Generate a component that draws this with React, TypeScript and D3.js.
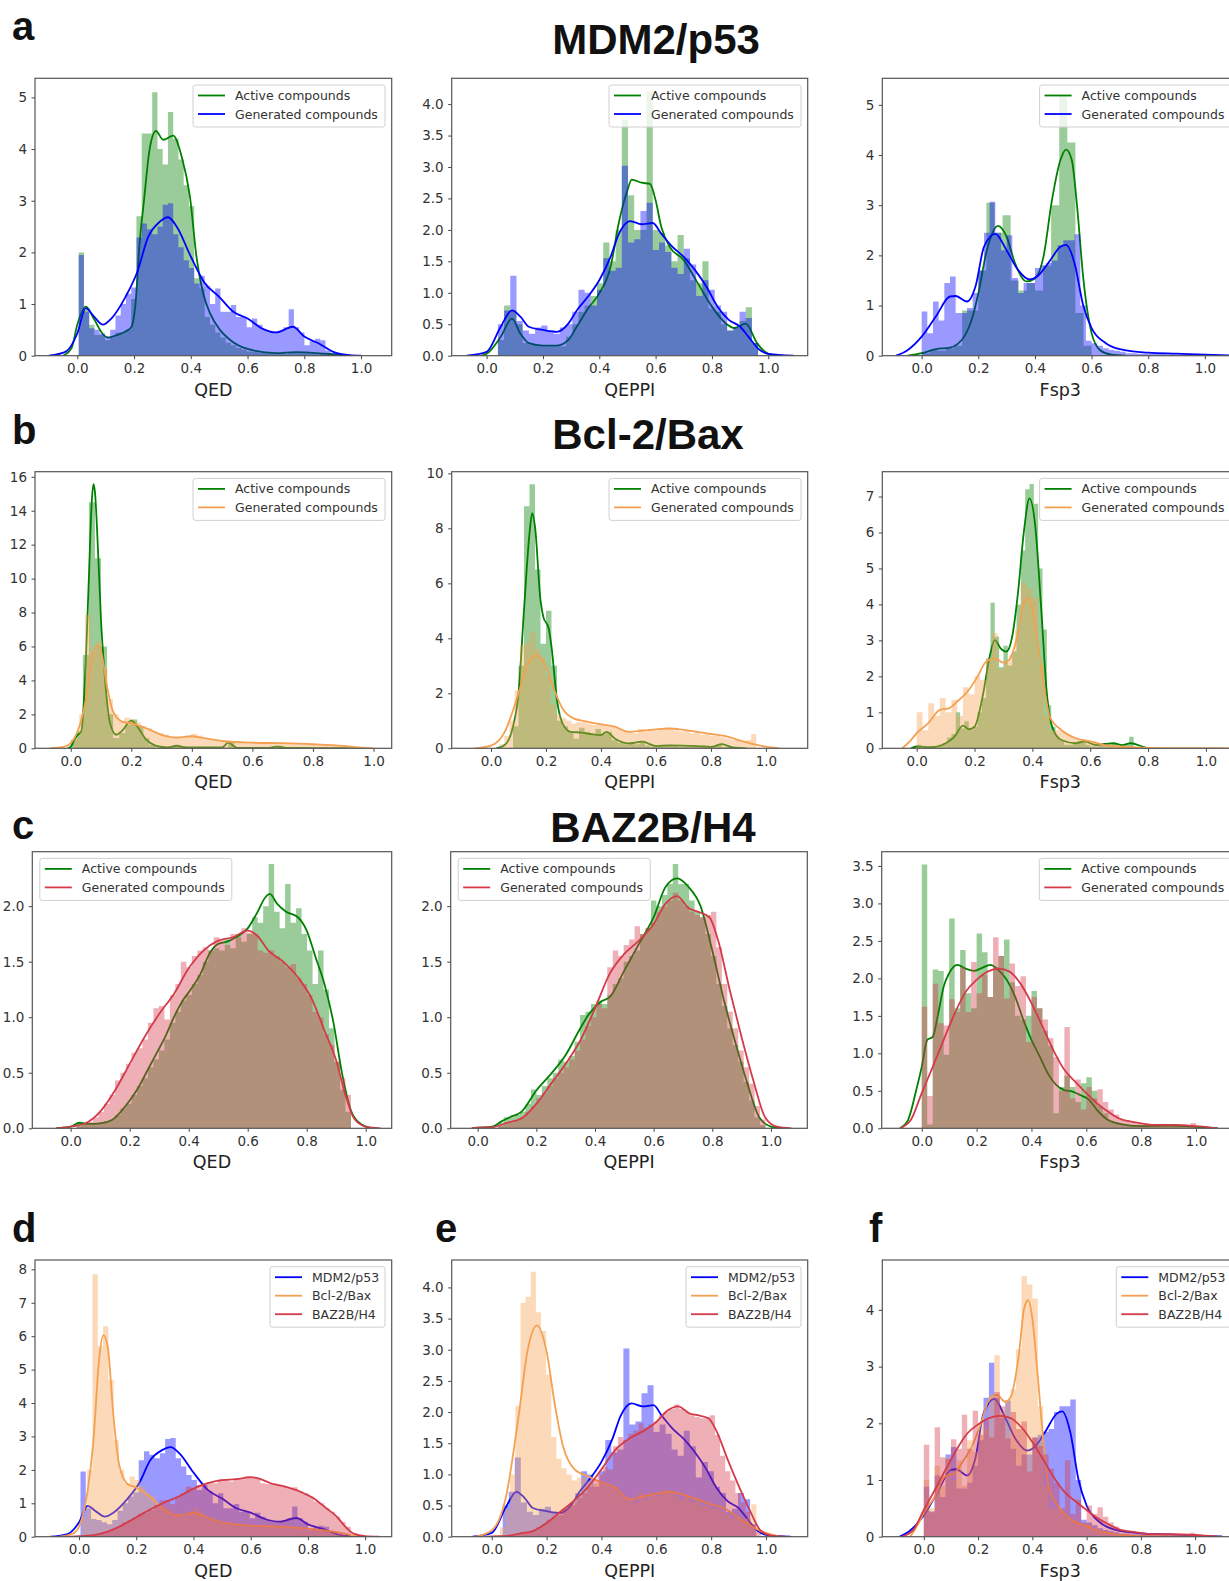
import React, { useEffect, useRef } from 'react';
import * as d3 from 'd3';

type Pt = [number, number];

// ---------- MDM2/p53 ----------
const qedMdmActiveHist = [2.0, 0.9, 0.6, 0.4, 0.4, 0.3, 0.35, 0.45, 0.45, 0.5, 1.1, 2.7, 4.3, 4.3, 5.1, 4.0, 3.7, 4.72, 4.2, 3.8, 3.3, 2.9, 1.5, 1.3, 0.75, 0.6, 0.45, 0.35, 0.25, 0.2, 0.15, 0.12, 0.08, 0.07, 0.06, 0.05, 0.05, 0.04, 0.05, 0.04, 0.05, 0.06, 0.07, 0.05, 0.04, 0.03, 0.04, 0.05, 0.04, 0.02];
const qedMdmGenHist = [1.95, 0.85, 0.53, 0.5, 0.43, 0.37, 0.5, 0.78, 1.0, 1.2, 1.32, 2.29, 2.56, 2.45, 2.35, 2.5, 2.92, 2.95, 2.35, 2.1, 1.85, 1.7, 1.4, 1.55, 1.35, 1.0, 1.3, 0.85, 0.85, 0.98, 0.75, 0.75, 0.55, 0.72, 0.6, 0.5, 0.45, 0.45, 0.48, 0.55, 0.9, 0.55, 0.45, 0.2, 0.28, 0.33, 0.3, 0.1, 0.05, 0.03];
const qedMdmActiveKde: Pt[] = [[-0.05, 0], [-0.02, 0.15], [0.0, 0.6], [0.03, 0.95], [0.06, 0.7], [0.09, 0.42], [0.11, 0.35], [0.14, 0.4], [0.17, 0.47], [0.19, 0.55], [0.205, 1.0], [0.22, 2.2], [0.235, 3.0], [0.255, 4.0], [0.277, 4.35], [0.303, 4.18], [0.338, 4.26], [0.368, 3.85], [0.397, 3.08], [0.42, 1.92], [0.444, 1.2], [0.468, 0.82], [0.503, 0.5], [0.54, 0.3], [0.6, 0.13], [0.7, 0.05], [0.77, 0.07], [0.87, 0.04], [0.95, 0]];
const qedMdmGenKde: Pt[] = [[-0.1, 0], [-0.04, 0.08], [0.0, 0.43], [0.03, 0.92], [0.06, 0.75], [0.09, 0.6], [0.12, 0.72], [0.17, 1.14], [0.21, 1.6], [0.25, 2.3], [0.29, 2.59], [0.32, 2.68], [0.35, 2.5], [0.4, 1.92], [0.45, 1.4], [0.5, 1.14], [0.55, 0.85], [0.6, 0.72], [0.65, 0.53], [0.7, 0.45], [0.76, 0.56], [0.8, 0.37], [0.85, 0.24], [0.9, 0.08], [0.96, 0.01], [1.0, 0]];

const qeppiMdmActiveHist = [0.25, 0.8, 0.72, 0.5, 0.2, 0.18, 0.15, 0.15, 0.15, 0.15, 0.15, 0.3, 0.5, 0.7, 0.8, 0.95, 1.15, 1.8, 1.5, 2.0, 3.75, 2.55, 2.0, 2.0, 4.2, 2.0, 1.95, 1.75, 1.5, 1.92, 1.55, 1.2, 1.15, 1.5, 0.75, 0.7, 0.5, 0.4, 0.45, 0.55, 0.77, 0.2];
const qeppiMdmGenHist = [0.5, 0.72, 1.27, 0.55, 0.4, 0.35, 0.45, 0.48, 0.4, 0.35, 0.45, 0.5, 0.7, 1.05, 1.0, 0.8, 1.05, 1.55, 1.35, 1.4, 3.02, 1.8, 1.85, 2.3, 2.43, 1.68, 1.8, 1.65, 1.4, 1.3, 1.7, 1.45, 0.95, 1.2, 1.05, 0.8, 0.7, 0.4, 0.45, 0.7, 0.6, 0.2];
const qeppiMdmActiveKde: Pt[] = [[-0.02, 0], [0.0, 0.03], [0.05, 0.3], [0.09, 0.59], [0.12, 0.35], [0.15, 0.2], [0.2, 0.16], [0.25, 0.16], [0.29, 0.25], [0.32, 0.46], [0.36, 0.75], [0.4, 0.99], [0.44, 1.41], [0.47, 2.13], [0.5, 2.63], [0.515, 2.8], [0.55, 2.75], [0.58, 2.73], [0.6, 2.47], [0.62, 2.05], [0.65, 1.73], [0.7, 1.52], [0.75, 1.15], [0.8, 0.78], [0.85, 0.51], [0.88, 0.44], [0.92, 0.51], [0.96, 0.2], [1.0, 0.03], [1.03, 0]];
const qeppiMdmGenKde: Pt[] = [[-0.07, 0], [0.0, 0.06], [0.05, 0.46], [0.09, 0.72], [0.12, 0.62], [0.15, 0.46], [0.2, 0.41], [0.25, 0.38], [0.29, 0.51], [0.32, 0.72], [0.36, 0.94], [0.4, 1.2], [0.44, 1.57], [0.47, 1.94], [0.51, 2.14], [0.55, 2.09], [0.59, 2.11], [0.62, 1.94], [0.66, 1.73], [0.7, 1.57], [0.74, 1.36], [0.78, 1.1], [0.82, 0.78], [0.86, 0.57], [0.9, 0.46], [0.93, 0.3], [0.97, 0.09], [1.0, 0.03], [1.09, 0]];

const fsp3MdmActiveHist = [0.05, 0.12, 0.1, 0.15, 0.2, 0.9, 0.9, 1.7, 3.05, 2.45, 2.8, 1.5, 1.3, 1.45, 1.3, 1.8, 3.0, 5.17, 4.25, 0.85, 0.2];
const fsp3MdmGenHist = [0.88, 0.45, 1.08, 0.7, 1.45, 1.58, 0.85, 0.85, 0.95, 1.25, 1.7, 2.45, 3.07, 2.45, 2.1, 2.4, 1.55, 1.25, 1.45, 1.45, 1.75, 1.8, 1.85, 1.9, 2.2, 2.3, 2.3, 2.42, 1.0, 0.3, 0.25, 0.2, 0.15, 0.12, 0.1, 0.08, 0.05, 0.05, 0.04, 0.04, 0.04, 0.05, 0.04, 0.03, 0.03, 0.02, 0.02, 0.02, 0.01, 0.01];
const fsp3MdmActiveKde: Pt[] = [[-0.05, 0], [0.0, 0.05], [0.05, 0.13], [0.1, 0.16], [0.15, 0.38], [0.18, 0.78], [0.2, 1.24], [0.23, 2.1], [0.27, 2.59], [0.3, 2.37], [0.33, 1.84], [0.37, 1.48], [0.4, 1.54], [0.43, 1.97], [0.46, 3.1], [0.49, 3.9], [0.51, 4.11], [0.53, 3.9], [0.55, 2.9], [0.57, 1.58], [0.6, 0.45], [0.63, 0.11], [0.67, 0.02], [0.72, 0]];
const fsp3MdmGenKde: Pt[] = [[-0.09, 0], [-0.05, 0.11], [0.0, 0.38], [0.05, 0.78], [0.1, 1.18], [0.12, 1.19], [0.16, 1.08], [0.19, 1.38], [0.22, 2.17], [0.26, 2.43], [0.3, 2.1], [0.34, 1.71], [0.38, 1.52], [0.41, 1.59], [0.45, 1.87], [0.49, 2.17], [0.51, 2.21], [0.54, 1.84], [0.57, 1.01], [0.6, 0.55], [0.65, 0.25], [0.7, 0.13], [0.8, 0.06], [0.9, 0.04], [1.0, 0.02], [1.1, 0.005]];

// ---------- Bcl-2/Bax ----------
const qedBclActiveHist = [0.5, 1.0, 5.5, 14.5, 11.2, 6.0, 2.0, 0.6, 0.9, 1.4, 1.7, 1.3, 0.6, 0.2, 0.05, 0.05, 0.05, 0.2, 0.1, 0.05, 0.05, 0.05, 0.0, 0.05, 0.0, 0.05, 0.4, 0.05, 0.0, 0.0, 0.05, 0.0, 0.0, 0.0, 0.15];
const qedBclGenHist = [0.6, 2.0, 7.85, 5.7, 6.3, 4.7, 2.9, 2.0, 1.6, 1.8, 1.7, 1.5, 1.3, 1.2, 1.0, 0.9, 0.8, 0.65, 0.7, 0.6, 0.75, 0.85, 0.75, 0.55, 0.5, 0.45, 0.4, 0.45, 0.35, 0.4, 0.35, 0.3, 0.35, 0.3, 0.3, 0.28, 0.3, 0.3, 0.25, 0.25, 0.3, 0.25, 0.2, 0.25, 0.2, 0.2, 0.15, 0.15, 0.1, 0.08];
const qedBclActiveKde: Pt[] = [[-0.01, 0], [0.0, 0.1], [0.02, 0.73], [0.035, 1.0], [0.05, 5.2], [0.06, 10.1], [0.07, 14.7], [0.075, 15.57], [0.08, 15.1], [0.09, 11.7], [0.1, 7.56], [0.11, 4.8], [0.13, 1.47], [0.15, 0.8], [0.17, 1.04], [0.2, 1.63], [0.22, 1.28], [0.25, 0.49], [0.28, 0.16], [0.32, 0.05], [0.35, 0.15], [0.38, 0.06], [0.45, 0.05], [0.5, 0.05], [0.52, 0.33], [0.55, 0.03], [0.65, 0.02], [0.68, 0.1], [0.72, 0.02], [0.9, 0.01], [0.95, 0]];
const qedBclGenKde: Pt[] = [[-0.07, 0], [-0.02, 0.1], [0.0, 0.3], [0.03, 1.37], [0.05, 2.85], [0.07, 5.3], [0.085, 6.03], [0.1, 5.7], [0.12, 3.63], [0.14, 2.16], [0.17, 1.57], [0.2, 1.47], [0.25, 1.18], [0.3, 0.79], [0.35, 0.63], [0.4, 0.71], [0.43, 0.63], [0.5, 0.43], [0.6, 0.33], [0.7, 0.3], [0.8, 0.24], [0.9, 0.14], [0.95, 0.05], [1.0, 0]];

const qeppiBclActiveHist = [0.8, 3.0, 8.8, 9.6, 6.5, 3.8, 5.0, 3.0, 1.0, 0.8, 0.6, 0.35, 0.75, 0.6, 0.5, 0.7, 0.55, 0.6, 0.3, 0.2, 0.15, 0.2, 0.15, 0.25, 0.1, 0.05, 0.1, 0.1, 0.1, 0.1, 0.05, 0.05, 0.05, 0.05, 0.1, 0.05, 0.05, 0.15, 0.05, 0.05];
const qeppiBclGenHist = [0.15, 0.45, 1.0, 2.1, 3.75, 3.85, 4.25, 3.6, 3.3, 2.6, 1.6, 1.25, 1.1, 1.0, 0.9, 0.95, 0.95, 0.9, 0.85, 0.9, 0.85, 0.8, 0.8, 0.7, 0.65, 0.6, 0.55, 0.7, 0.6, 0.7, 0.65, 0.7, 0.75, 0.7, 0.65, 0.6, 0.65, 0.55, 0.6, 0.5, 0.5, 0.45, 0.45, 0.4, 0.35, 0.3, 0.3, 0.25, 0.3, 0.52];
const qeppiBclActiveKde: Pt[] = [[0.02, 0], [0.05, 0.12], [0.08, 0.79], [0.1, 2.0], [0.12, 5.03], [0.14, 7.82], [0.15, 8.55], [0.16, 8.06], [0.18, 5.39], [0.19, 4.79], [0.21, 4.36], [0.22, 3.7], [0.24, 1.76], [0.26, 0.91], [0.29, 0.6], [0.33, 0.57], [0.36, 0.52], [0.4, 0.48], [0.42, 0.6], [0.45, 0.36], [0.5, 0.18], [0.55, 0.24], [0.6, 0.08], [0.65, 0.11], [0.75, 0.08], [0.8, 0.05], [0.84, 0.15], [0.88, 0.03], [0.93, 0]];
const qeppiBclGenKde: Pt[] = [[-0.06, 0], [0.0, 0.1], [0.05, 0.6], [0.1, 2.0], [0.13, 2.97], [0.165, 3.39], [0.2, 2.97], [0.23, 2.12], [0.26, 1.45], [0.3, 1.09], [0.35, 0.97], [0.4, 0.87], [0.45, 0.79], [0.5, 0.6], [0.55, 0.64], [0.6, 0.69], [0.65, 0.72], [0.7, 0.67], [0.75, 0.6], [0.8, 0.52], [0.85, 0.45], [0.9, 0.3], [0.95, 0.16], [1.0, 0.06], [1.05, 0]];

const fsp3BclActiveHist = [0.1, 0, 0, 0.05, 0.05, 0.1, 0.15, 0.3, 0.4, 1.0, 0.55, 0.75, 0.5, 0.6, 1.0, 1.4, 2.5, 4.05, 3.1, 2.25, 2.85, 2.3, 2.7, 4.0, 5.5, 7.2, 7.35, 6.8, 5.0, 3.3, 1.2, 0.6, 0.3, 0.2, 0.1, 0.1, 0.15, 0.2, 0.2, 0.1, 0.05, 0.05, 0.1, 0.15, 0.1, 0.15, 0.05, 0.05, 0.1, 0.32];
const fsp3BclGenHist = [1.0, 0.5, 1.25, 0.9, 1.4, 1.0, 1.35, 0.9, 1.7, 1.5, 2.0, 1.9, 2.5, 3.2, 2.2, 2.4, 2.6, 3.3, 4.6, 4.45, 4.2, 2.3, 0.9, 0.5, 0.5, 0.45, 0.35, 0.3, 0.25, 0.2, 0.2, 0.15, 0.1, 0.1, 0.08, 0.05, 0.05, 0.05, 0.03, 0.03, 0.02];
const fsp3BclActiveKde: Pt[] = [[-0.02, 0], [0.0, 0.05], [0.05, 0.03], [0.1, 0.14], [0.13, 0.32], [0.16, 0.63], [0.18, 0.53], [0.2, 0.6], [0.23, 1.53], [0.25, 2.46], [0.27, 3.01], [0.29, 2.78], [0.31, 2.69], [0.33, 3.1], [0.35, 4.31], [0.37, 5.98], [0.39, 6.95], [0.41, 6.17], [0.43, 3.94], [0.45, 1.53], [0.47, 0.56], [0.5, 0.23], [0.55, 0.14], [0.58, 0.19], [0.62, 0.09], [0.65, 0.12], [0.68, 0.14], [0.71, 0.09], [0.74, 0.14], [0.78, 0.05], [0.8, 0]];
const fsp3BclGenKde: Pt[] = [[-0.05, 0], [-0.02, 0.23], [0.0, 0.42], [0.04, 0.7], [0.08, 1.07], [0.11, 1.11], [0.14, 1.3], [0.18, 1.62], [0.21, 1.99], [0.24, 2.41], [0.27, 2.5], [0.3, 2.38], [0.32, 2.46], [0.35, 3.2], [0.37, 4.03], [0.385, 4.17], [0.4, 3.85], [0.42, 2.83], [0.44, 1.72], [0.46, 0.88], [0.5, 0.51], [0.55, 0.28], [0.6, 0.19], [0.65, 0.09], [0.7, 0.05], [0.8, 0.01], [1.1, 0]];

// ---------- BAZ2B/H4 ----------
const qedBazActiveHist = [0.05, 0.05, 0.03, 0.04, 0.05, 0.06, 0.08, 0.12, 0.18, 0.22, 0.3, 0.38, 0.45, 0.55, 0.62, 0.7, 0.8, 0.95, 1.05, 1.15, 1.2, 1.3, 1.38, 1.5, 1.6, 1.62, 1.6, 1.7, 1.62, 1.75, 1.68, 1.75, 1.9, 1.85, 2.0, 2.38, 1.95, 1.8, 2.2, 1.85, 1.98, 1.75, 1.6, 1.3, 1.6, 1.25, 0.9, 0.6, 0.35, 0.15];
const qedBazGenHist = [0.02, 0.04, 0.06, 0.1, 0.15, 0.22, 0.3, 0.43, 0.5, 0.58, 0.68, 0.72, 0.8, 0.95, 1.08, 1.1, 0.98, 1.2, 1.3, 1.5, 1.45, 1.55, 1.6, 1.63, 1.6, 1.72, 1.7, 1.65, 1.75, 1.72, 1.8, 1.76, 1.75, 1.6, 1.58, 1.6, 1.55, 1.5, 1.45, 1.48, 1.35, 1.3, 1.2, 1.05, 1.0, 0.85, 0.75, 0.6, 0.45, 0.3];
const qedBazActiveKde: Pt[] = [[-0.05, 0], [0.0, 0.015], [0.03, 0.05], [0.06, 0.04], [0.1, 0.045], [0.14, 0.075], [0.17, 0.15], [0.2, 0.25], [0.23, 0.37], [0.26, 0.52], [0.29, 0.67], [0.32, 0.82], [0.35, 1.0], [0.38, 1.15], [0.41, 1.26], [0.44, 1.39], [0.47, 1.57], [0.5, 1.66], [0.53, 1.68], [0.56, 1.72], [0.6, 1.8], [0.63, 1.93], [0.66, 2.08], [0.675, 2.11], [0.7, 2.02], [0.73, 1.95], [0.77, 1.9], [0.8, 1.78], [0.83, 1.54], [0.86, 1.3], [0.89, 0.96], [0.92, 0.49], [0.95, 0.16], [0.98, 0.045], [1.02, 0]];
const qedBazGenKde: Pt[] = [[-0.05, 0], [0.0, 0.015], [0.05, 0.045], [0.1, 0.15], [0.15, 0.34], [0.2, 0.58], [0.25, 0.82], [0.3, 1.03], [0.35, 1.21], [0.4, 1.44], [0.45, 1.6], [0.5, 1.69], [0.55, 1.72], [0.6, 1.78], [0.63, 1.74], [0.67, 1.6], [0.72, 1.5], [0.77, 1.36], [0.82, 1.15], [0.86, 0.88], [0.9, 0.61], [0.93, 0.31], [0.96, 0.09], [1.0, 0.015], [1.05, 0]];

const qeppiBazActiveHist = [0.05, 0.1, 0.1, 0.12, 0.15, 0.22, 0.35, 0.3, 0.38, 0.45, 0.5, 0.62, 0.6, 0.65, 0.78, 1.02, 1.05, 1.12, 1.15, 1.12, 1.2, 1.3, 1.35, 1.5, 1.55, 1.6, 1.75, 1.8, 2.05, 2.0, 2.1, 2.2, 2.38, 2.2, 2.2, 2.05, 1.95, 1.9, 1.75, 1.55, 1.3, 1.1, 0.9, 0.75, 0.6, 0.42, 0.25, 0.1, 0.03];
const qeppiBazGenHist = [0.02, 0.05, 0.05, 0.07, 0.1, 0.15, 0.2, 0.27, 0.32, 0.38, 0.45, 0.5, 0.55, 0.62, 0.7, 0.8, 0.92, 1.0, 1.12, 1.08, 1.45, 1.6, 1.55, 1.65, 1.7, 1.82, 1.75, 1.8, 1.85, 1.95, 2.0, 2.05, 2.12, 2.05, 2.0, 1.95, 1.92, 1.9, 1.92, 1.95, 1.63, 1.3, 1.05, 0.9, 0.7, 0.55, 0.4, 0.2, 0.08];
const qeppiBazActiveKde: Pt[] = [[-0.02, 0], [0.0, 0.005], [0.05, 0.015], [0.08, 0.06], [0.11, 0.1], [0.15, 0.15], [0.2, 0.34], [0.25, 0.49], [0.3, 0.66], [0.35, 0.9], [0.38, 1.03], [0.42, 1.14], [0.45, 1.18], [0.5, 1.42], [0.55, 1.66], [0.6, 1.9], [0.64, 2.17], [0.68, 2.25], [0.72, 2.17], [0.76, 2.0], [0.8, 1.6], [0.84, 1.15], [0.88, 0.76], [0.92, 0.4], [0.96, 0.1], [1.0, 0.015], [1.04, 0]];
const qeppiBazGenKde: Pt[] = [[-0.02, 0], [0.0, 0.005], [0.05, 0.01], [0.1, 0.05], [0.15, 0.09], [0.2, 0.22], [0.25, 0.4], [0.3, 0.58], [0.35, 0.79], [0.4, 1.08], [0.45, 1.39], [0.5, 1.57], [0.55, 1.69], [0.6, 1.84], [0.64, 2.02], [0.68, 2.09], [0.72, 1.98], [0.75, 1.95], [0.79, 1.9], [0.82, 1.69], [0.86, 1.24], [0.9, 0.82], [0.94, 0.43], [0.98, 0.1], [1.02, 0.015], [1.07, 0]];

const fsp3BazActiveHist = [3.52, 0.05, 2.12, 2.1, 0.98, 2.8, 1.6, 2.38, 1.8, 1.6, 2.6, 2.35, 1.75, 2.15, 2.3, 2.52, 1.95, 1.5, 1.45, 1.5, 1.83, 1.6, 1.3, 1.1, 0.2, 0.55, 0.7, 0.55, 0.35, 0.6, 0.68, 0.5, 0.3, 0.2, 0.1, 0.08, 0.05, 0.03, 0.03, 0.03, 0.03, 0.03, 0.03, 0.04, 0.05, 0.04, 0.03, 0.03, 0.02, 0.02];
const fsp3BazGenHist = [1.62, 0.43, 1.93, 1.4, 1.37, 1.72, 1.55, 2.15, 1.55, 2.22, 1.8, 2.05, 1.75, 2.55, 2.3, 1.73, 2.2, 1.9, 2.03, 1.15, 1.75, 1.6, 1.45, 1.2, 0.95, 0.5, 1.35, 0.4, 0.65, 0.25, 0.55, 0.4, 0.52, 0.35, 0.25, 0.18, 0.12, 0.1, 0.08, 0.06, 0.05, 0.05, 0.04, 0.04, 0.05, 0.05, 0.04, 0.03, 0.03, 0.07];
const fsp3BazActiveKde: Pt[] = [[-0.08, 0], [-0.05, 0.11], [-0.02, 0.51], [0.0, 0.82], [0.02, 1.18], [0.04, 1.22], [0.06, 1.53], [0.08, 1.89], [0.1, 2.07], [0.13, 2.18], [0.16, 2.13], [0.19, 2.1], [0.22, 2.14], [0.25, 2.18], [0.28, 2.11], [0.31, 1.98], [0.34, 1.76], [0.37, 1.45], [0.4, 1.18], [0.43, 0.96], [0.46, 0.73], [0.49, 0.58], [0.52, 0.51], [0.55, 0.49], [0.58, 0.44], [0.61, 0.38], [0.64, 0.24], [0.68, 0.11], [0.72, 0.06], [0.8, 0.03], [0.9, 0.035], [1.0, 0.02], [1.08, 0]];
const fsp3BazGenKde: Pt[] = [[-0.08, 0], [-0.04, 0.11], [0.0, 0.47], [0.04, 0.82], [0.08, 1.18], [0.12, 1.53], [0.16, 1.82], [0.2, 1.98], [0.24, 2.09], [0.28, 2.13], [0.32, 2.09], [0.36, 1.93], [0.4, 1.67], [0.44, 1.36], [0.48, 1.04], [0.52, 0.78], [0.56, 0.62], [0.6, 0.47], [0.64, 0.33], [0.68, 0.22], [0.72, 0.13], [0.78, 0.08], [0.85, 0.045], [0.92, 0.045], [1.0, 0.03], [1.08, 0]];

const xTicks = [0, 0.2, 0.4, 0.6, 0.8, 1.0];
const compoundLabels = ['Active compounds', 'Generated compounds'];
const targetLabels = ['MDM2/p53', 'Bcl-2/Bax', 'BAZ2B/H4'];

const GREEN = '#008000';
const BLUE = '#0000ff';
const ORANGE = '#f5a050';
const RED = '#d43a48';

// bin start / bin width of each histogram
const qedMdmActive = { start: 0.005, width: 0.0185, hist: qedMdmActiveHist, kde: qedMdmActiveKde, color: GREEN };
const qedMdmGen = { start: 0.005, width: 0.0185, hist: qedMdmGenHist, kde: qedMdmGenKde, color: BLUE };
const qeppiMdmActive = { start: 0.04, width: 0.022, hist: qeppiMdmActiveHist, kde: qeppiMdmActiveKde, color: GREEN };
const qeppiMdmGen = { start: 0.04, width: 0.022, hist: qeppiMdmGenHist, kde: qeppiMdmGenKde, color: BLUE };
const fsp3MdmActive = { start: 0, width: 0.6 / 21, hist: fsp3MdmActiveHist, kde: fsp3MdmActiveKde, color: GREEN };
const fsp3MdmGen = { start: 0, width: 0.02, hist: fsp3MdmGenHist, kde: fsp3MdmGenKde, color: BLUE };
const qedBclActive = { start: 0, width: 0.02, hist: qedBclActiveHist, kde: qedBclActiveKde, color: GREEN };
const qedBclGen = { start: 0.01, width: 0.0185, hist: qedBclGenHist, kde: qedBclGenKde, color: ORANGE };
const qeppiBclActive = { start: 0.08, width: 0.02, hist: qeppiBclActiveHist, kde: qeppiBclActiveKde, color: GREEN };
const qeppiBclGen = { start: 0.03, width: 0.0187, hist: qeppiBclGenHist, kde: qeppiBclGenKde, color: ORANGE };
const fsp3BclActive = { start: 0, width: 0.015, hist: fsp3BclActiveHist, kde: fsp3BclActiveKde, color: GREEN };
const fsp3BclGen = { start: 0, width: 0.02, hist: fsp3BclGenHist, kde: fsp3BclGenKde, color: ORANGE };
const qedBazActive = { start: 0.02, width: 0.0186, hist: qedBazActiveHist, kde: qedBazActiveKde, color: GREEN };
const qedBazGen = { start: 0.02, width: 0.0186, hist: qedBazGenHist, kde: qedBazGenKde, color: RED };
const qeppiBazActive = { start: 0.07, width: 0.0186, hist: qeppiBazActiveHist, kde: qeppiBazActiveKde, color: GREEN };
const qeppiBazGen = { start: 0.07, width: 0.0186, hist: qeppiBazGenHist, kde: qeppiBazGenKde, color: RED };
const fsp3BazActive = { start: 0, width: 0.02, hist: fsp3BazActiveHist, kde: fsp3BazActiveKde, color: GREEN };
const fsp3BazGen = { start: 0, width: 0.02, hist: fsp3BazGenHist, kde: fsp3BazGenKde, color: RED };

const intTicks = (n: number, step = 1) => d3.range(0, n + 0.001, step);

const rowY = [[78.3, 355.7], [471.7, 748.3], [851.7, 1128.3], [1260, 1536.7]];

const panels = [
  { l: 35, r: 391.7, row: 0, xd: [-0.149, 1.108], yMax: 5.37, yt: intTicks(5), yf: 'd', xl: 'QED', s: [qedMdmActive, qedMdmGen], lg: compoundLabels, side: 'r' },
  { l: 451.7, r: 807.7, row: 0, xd: [-0.124, 1.14], yMax: 4.41, yt: intTicks(4, 0.5), yf: '.1f', xl: 'QEPPI', s: [qeppiMdmActive, qeppiMdmGen], lg: compoundLabels, side: 'r' },
  { l: 882.3, r: 1238.3, row: 0, xd: [-0.139, 1.118], yMax: 5.53, yt: intTicks(5), yf: 'd', xl: 'Fsp3', s: [fsp3MdmActive, fsp3MdmGen], lg: compoundLabels, side: 'r' },
  { l: 35, r: 391.7, row: 1, xd: [-0.118, 1.06], yMax: 16.3, yt: intTicks(16, 2), yf: 'd', xl: 'QED', s: [qedBclActive, qedBclGen], lg: compoundLabels, side: 'r' },
  { l: 451.7, r: 807.7, row: 1, xd: [-0.143, 1.152], yMax: 10.06, yt: intTicks(10, 2), yf: 'd', xl: 'QEPPI', s: [qeppiBclActive, qeppiBclGen], lg: compoundLabels, side: 'r' },
  { l: 882.3, r: 1238.3, row: 1, xd: [-0.119, 1.112], yMax: 7.69, yt: intTicks(7), yf: 'd', xl: 'Fsp3', s: [fsp3BclActive, fsp3BclGen], lg: compoundLabels, side: 'r' },
  { l: 32.3, r: 391.7, row: 2, xd: [-0.13, 1.088], yMax: 2.49, yt: intTicks(2, 0.5), yf: '.1f', xl: 'QED', s: [qedBazActive, qedBazGen], lg: compoundLabels, side: 'l' },
  { l: 450.7, r: 807.3, row: 2, xd: [-0.092, 1.124], yMax: 2.49, yt: intTicks(2, 0.5), yf: '.1f', xl: 'QEPPI', s: [qeppiBazActive, qeppiBazGen], lg: compoundLabels, side: 'l' },
  { l: 881.7, r: 1238, row: 2, xd: [-0.146, 1.153], yMax: 3.69, yt: intTicks(3.5, 0.5), yf: '.1f', xl: 'Fsp3', s: [fsp3BazActive, fsp3BazGen], lg: compoundLabels, side: 'r' },
  { l: 35, r: 391.7, row: 3, xd: [-0.154, 1.093], yMax: 8.28, yt: intTicks(8), yf: 'd', xl: 'QED', s: [qedMdmGen, qedBclGen, qedBazGen], lg: targetLabels, side: 'r' },
  { l: 451.7, r: 807.7, row: 3, xd: [-0.146, 1.152], yMax: 4.44, yt: intTicks(4, 0.5), yf: '.1f', xl: 'QEPPI', s: [qeppiMdmGen, qeppiBclGen, qeppiBazGen], lg: targetLabels, side: 'r' },
  { l: 882.3, r: 1238, row: 3, xd: [-0.153, 1.158], yMax: 4.88, yt: intTicks(4), yf: 'd', xl: 'Fsp3', s: [fsp3MdmGen, fsp3BclGen, fsp3BazGen], lg: targetLabels, side: 'r' },
];

const letters = [
  { t: 'a', x: 12, y: 40 }, { t: 'b', x: 12, y: 444 }, { t: 'c', x: 12, y: 839 },
  { t: 'd', x: 12, y: 1242 }, { t: 'e', x: 435, y: 1242 }, { t: 'f', x: 869, y: 1242 },
];
const titles = [
  { t: 'MDM2/p53', x: 656, y: 54 }, { t: 'Bcl-2/Bax', x: 648, y: 449 }, { t: 'BAZ2B/H4', x: 653, y: 842 },
];

const FONT = 'DejaVu Sans, Verdana, sans-serif';

export default function App() {
  const ref = useRef<SVGSVGElement>(null);

  useEffect(() => {
    const svg = d3.select(ref.current);
    svg.selectAll('*').remove();

    panels.forEach((p, i) => {
      const [top, bottom] = rowY[p.row];
      const x = d3.scaleLinear().domain(p.xd).range([p.l, p.r]);
      const y = d3.scaleLinear().domain([0, p.yMax]).range([bottom, top]);
      const g = svg.append('g');

      g.append('clipPath').attr('id', `clip${i}`)
        .append('rect').attr('x', p.l).attr('y', top).attr('width', p.r - p.l).attr('height', bottom - top);
      const plot = g.append('g').attr('clip-path', `url(#clip${i})`);

      const line = d3.line<Pt>().x(d => x(d[0])).y(d => y(d[1])).curve(d3.curveMonotoneX);
      const histArea = d3.area<Pt>().x(d => x(d[0])).y0(y(0)).y1(d => y(d[1]));

      p.s.forEach(s => {
        // histogram as one stepped outline so neighbouring bins show no seams
        const steps: Pt[] = s.hist.flatMap((h, j): Pt[] => [
          [s.start + j * s.width, h],
          [s.start + (j + 1) * s.width, h],
        ]);
        plot.append('path').datum(steps)
          .attr('d', histArea)
          .attr('fill', s.color)
          .attr('fill-opacity', 0.4);
        plot.append('path').datum(s.kde)
          .attr('d', line)
          .attr('fill', 'none')
          .attr('stroke', s.color)
          .attr('stroke-width', 1.8);
      });

      // axes
      const xAxis = g.append('g').attr('transform', `translate(0,${bottom})`)
        .call(d3.axisBottom(x).tickValues(xTicks).tickFormat(d3.format('.1f')).tickSize(3.5).tickPadding(4.5));
      const yAxis = g.append('g').attr('transform', `translate(${p.l},0)`)
        .call(d3.axisLeft(y).tickValues(p.yt).tickFormat(d3.format(p.yf)).tickSize(3.5).tickPadding(4.5));
      [xAxis, yAxis].forEach(a => {
        a.select('.domain').remove();
        a.selectAll('line').attr('stroke', '#444');
        a.selectAll('text').attr('fill', '#333').style('font-family', FONT).style('font-size', '13.5px');
      });

      g.append('rect').attr('x', p.l).attr('y', top).attr('width', p.r - p.l).attr('height', bottom - top)
        .attr('fill', 'none').attr('stroke', '#555').attr('stroke-width', 1.2);

      g.append('text').attr('x', (p.l + p.r) / 2).attr('y', bottom + 40)
        .attr('text-anchor', 'middle').style('font-family', FONT).style('font-size', '17.5px')
        .attr('fill', '#222').text(p.xl);

      // legend
      const boxW = p.lg.length === 2 ? 192 : 115;
      const boxH = p.lg.length * 18.5 + 5;
      const bx = p.side === 'r' ? p.r - 6.7 - boxW : p.l + 7.5;
      const by = top + 6.7;
      const lg = g.append('g').attr('transform', `translate(${bx},${by})`);
      lg.append('rect').attr('width', boxW).attr('height', boxH).attr('rx', 2.5)
        .attr('fill', 'white').attr('fill-opacity', 0.8).attr('stroke', '#d0d0d0').attr('stroke-width', 1);
      p.lg.forEach((label, k) => {
        const cy = 10.5 + k * 18.5;
        lg.append('line').attr('x1', 5).attr('x2', 32).attr('y1', cy).attr('y2', cy)
          .attr('stroke', p.s[k].color).attr('stroke-width', 1.8);
        lg.append('text').attr('x', 42).attr('y', cy + 4.5)
          .style('font-family', FONT).style('font-size', '12.5px').attr('fill', '#333').text(label);
      });
    });

    svg.selectAll('.letter').data(letters).enter().append('text')
      .attr('x', d => d.x).attr('y', d => d.y)
      .style('font-family', 'Liberation Sans, Arial, sans-serif').style('font-weight', 'bold').style('font-size', '40px')
      .attr('fill', '#111').text(d => d.t);
    svg.selectAll('.title').data(titles).enter().append('text')
      .attr('x', d => d.x).attr('y', d => d.y).attr('text-anchor', 'middle')
      .style('font-family', 'Liberation Sans, Arial, sans-serif').style('font-weight', 'bold').style('font-size', '42px')
      .attr('fill', '#111').text(d => d.t);
  }, []);

  return (
    <div style={{ position: 'absolute', left: 0, top: 0 }}>
      <svg ref={ref} width={1229} height={1581} style={{ display: 'block', background: 'white' }} />
    </div>
  );
}
